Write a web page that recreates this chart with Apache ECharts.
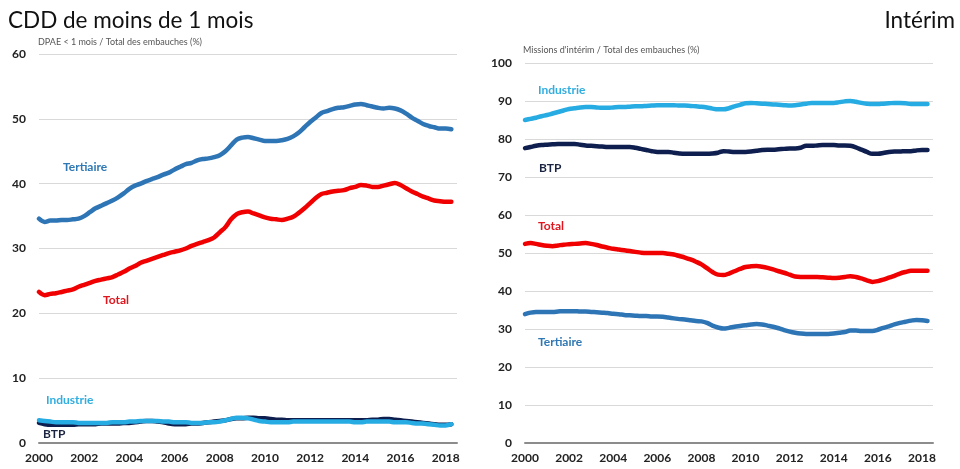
<!DOCTYPE html>
<html>
<head>
<meta charset="utf-8">
<script src="https://cdn.jsdelivr.net/npm/echarts@6/dist/echarts.min.js"></script>
<style>
  html, body { margin: 0; padding: 0; background: #ffffff; }
  #chart { width: 960px; height: 469px; }
</style>
</head>
<body>
<div id="chart"></div>
<script>
// Quarterly periods (decimal years), 2000 T1 to 2018 T2
const periods = [
  2000, 2000.25, 2000.5, 2000.75, 2001, 2001.25, 2001.5, 2001.75,
  2002, 2002.25, 2002.5, 2002.75, 2003, 2003.25, 2003.5, 2003.75,
  2004, 2004.25, 2004.5, 2004.75, 2005, 2005.25, 2005.5, 2005.75,
  2006, 2006.25, 2006.5, 2006.75, 2007, 2007.25, 2007.5, 2007.75,
  2008, 2008.25, 2008.5, 2008.75, 2009, 2009.25, 2009.5, 2009.75,
  2010, 2010.25, 2010.5, 2010.75, 2011, 2011.25, 2011.5, 2011.75,
  2012, 2012.25, 2012.5, 2012.75, 2013, 2013.25, 2013.5, 2013.75,
  2014, 2014.25, 2014.5, 2014.75, 2015, 2015.25, 2015.5, 2015.75,
  2016, 2016.25, 2016.5, 2016.75, 2017, 2017.25, 2017.5, 2017.75,
  2018, 2018.25
];
const yearTicks = [2000, 2002, 2004, 2006, 2008, 2010, 2012, 2014, 2016, 2018];

// CDD de moins de 1 mois : DPAE < 1 mois / total des embauches (%)
const cddTertiaire = [
  34.6, 34.1, 34.3, 34.3, 34.4, 34.4, 34.5, 34.6,
  35.0, 35.6, 36.2, 36.6, 37.0, 37.4, 37.9, 38.5,
  39.2, 39.7, 40.0, 40.4, 40.7, 41.0, 41.4, 41.7,
  42.2, 42.6, 43.0, 43.2, 43.6, 43.8, 43.9, 44.1,
  44.4, 45.0, 45.9, 46.8, 47.1, 47.2, 47.0, 46.8,
  46.6, 46.6, 46.6, 46.7, 46.9, 47.3, 47.9, 48.7,
  49.5, 50.2, 50.9, 51.2, 51.5, 51.7, 51.8, 52.0,
  52.2, 52.3, 52.1, 51.9, 51.7, 51.6, 51.7, 51.6,
  51.3, 50.8, 50.2, 49.7, 49.2, 48.9, 48.7, 48.5,
  48.5, 48.4
];
const cddTotal = [
  23.3, 22.8, 23.0, 23.1, 23.3, 23.5, 23.7, 24.1,
  24.4, 24.7, 25.0, 25.2, 25.4, 25.6, 26.0, 26.4,
  26.9, 27.3, 27.8, 28.1, 28.4, 28.7, 29.0, 29.3,
  29.5, 29.7, 30.0, 30.4, 30.7, 31.0, 31.3, 31.7,
  32.5, 33.3, 34.5, 35.3, 35.6, 35.7, 35.4, 35.1,
  34.8, 34.6, 34.5, 34.4, 34.6, 34.9, 35.5, 36.2,
  37.0, 37.8, 38.4, 38.6, 38.8, 38.9, 39.0, 39.3,
  39.5, 39.8, 39.7, 39.5, 39.5, 39.7, 39.9, 40.1,
  39.8, 39.3, 38.8, 38.4, 38.0, 37.7, 37.4, 37.3,
  37.2, 37.2
];
const cddIndustrie = [
  3.5, 3.4, 3.3, 3.2, 3.2, 3.2, 3.2, 3.1,
  3.1, 3.1, 3.1, 3.1, 3.1, 3.2, 3.2, 3.2,
  3.3, 3.3, 3.4, 3.4, 3.4, 3.4, 3.3, 3.3,
  3.2, 3.2, 3.2, 3.1, 3.1, 3.1, 3.2, 3.2,
  3.3, 3.5, 3.7, 3.9, 3.9, 3.8, 3.6, 3.4,
  3.3, 3.2, 3.2, 3.2, 3.2, 3.3, 3.3, 3.3,
  3.3, 3.3, 3.3, 3.3, 3.3, 3.3, 3.3, 3.3,
  3.2, 3.2, 3.3, 3.3, 3.3, 3.3, 3.3, 3.2,
  3.2, 3.2, 3.1, 3.0, 3.0, 2.9, 2.8, 2.7,
  2.7, 2.9
];
const cddBtp = [
  3.1, 2.9, 2.8, 2.8, 2.8, 2.8, 2.8, 2.9,
  2.9, 2.9, 2.9, 3.0, 3.0, 3.0, 3.0, 3.1,
  3.1, 3.2, 3.3, 3.4, 3.4, 3.3, 3.2, 3.0,
  2.9, 2.9, 2.9, 3.0, 3.0, 3.1, 3.2, 3.3,
  3.4, 3.5, 3.7, 3.8, 3.8, 3.9, 3.9, 3.8,
  3.8, 3.7, 3.6, 3.6, 3.5, 3.5, 3.5, 3.5,
  3.5, 3.5, 3.5, 3.5, 3.5, 3.5, 3.5, 3.5,
  3.5, 3.5, 3.5, 3.6, 3.6, 3.7, 3.7, 3.6,
  3.5, 3.4, 3.3, 3.2, 3.1, 3.0, 2.9, 2.8,
  2.8, 2.9
];

// Intérim : missions d'intérim / total des embauches (%)
const intIndustrie = [
  85.0, 85.3, 85.6, 86.0, 86.3, 86.7, 87.1, 87.5,
  87.9, 88.1, 88.3, 88.4, 88.4, 88.3, 88.2, 88.2,
  88.3, 88.4, 88.4, 88.5, 88.6, 88.6, 88.7, 88.8,
  88.9, 88.9, 88.9, 88.9, 88.8, 88.8, 88.7, 88.6,
  88.5, 88.3, 88.0, 87.8, 87.8, 88.1, 88.6, 89.0,
  89.4, 89.5, 89.4, 89.3, 89.2, 89.1, 89.0, 88.9,
  88.8, 88.9, 89.1, 89.3, 89.5, 89.5, 89.5, 89.5,
  89.5, 89.7, 89.9, 90.0, 89.8, 89.5, 89.3, 89.2,
  89.2, 89.3, 89.4, 89.5, 89.5, 89.4, 89.2, 89.2,
  89.2, 89.2
];
const intBtp = [
  77.6, 77.9, 78.2, 78.4, 78.5, 78.6, 78.7, 78.7,
  78.7, 78.7, 78.5, 78.3, 78.2, 78.1, 78.0, 77.9,
  77.9, 77.9, 77.9, 77.9, 77.7, 77.4, 77.1, 76.8,
  76.6, 76.6, 76.6, 76.4, 76.2, 76.1, 76.1, 76.1,
  76.1, 76.1, 76.2, 76.4, 76.8, 76.7, 76.6, 76.6,
  76.6, 76.7, 76.9, 77.1, 77.2, 77.2, 77.3, 77.4,
  77.5, 77.5, 77.7, 78.2, 78.2, 78.3, 78.4, 78.4,
  78.4, 78.3, 78.3, 78.2, 77.8, 77.2, 76.6, 76.1,
  76.1, 76.3, 76.6, 76.7, 76.7, 76.8, 76.8, 77.0,
  77.1, 77.1
];
const intTotal = [
  52.4, 52.6, 52.4, 52.1, 51.9, 51.8, 52.0, 52.2,
  52.3, 52.4, 52.5, 52.6, 52.4, 52.1, 51.7, 51.4,
  51.1, 50.9, 50.7, 50.5, 50.3, 50.1, 50.0, 50.0,
  50.0, 50.0, 49.8, 49.6, 49.2, 48.8, 48.3, 47.7,
  47.0, 46.0, 45.0, 44.3, 44.2, 44.6, 45.2, 45.8,
  46.3, 46.5, 46.6, 46.4, 46.1, 45.7, 45.2, 44.8,
  44.3, 43.8, 43.7, 43.7, 43.7, 43.7, 43.6, 43.5,
  43.4, 43.5, 43.7, 43.9, 43.7, 43.3, 42.8, 42.4,
  42.6, 43.0, 43.5, 44.0, 44.6, 45.0, 45.3, 45.3,
  45.3, 45.3
];
const intTertiaire = [
  33.9, 34.3, 34.5, 34.5, 34.5, 34.5, 34.6, 34.7,
  34.7, 34.7, 34.6, 34.6, 34.5, 34.4, 34.3, 34.2,
  34.0, 33.9, 33.7, 33.6, 33.5, 33.4, 33.4, 33.3,
  33.3, 33.2, 33.0, 32.8, 32.6, 32.5, 32.3, 32.1,
  32.0, 31.6, 30.9, 30.4, 30.1, 30.3, 30.6, 30.8,
  31.0, 31.2, 31.3, 31.2, 30.9, 30.6, 30.2, 29.7,
  29.3, 29.0, 28.8, 28.7, 28.7, 28.7, 28.7, 28.7,
  28.8, 29.0, 29.2, 29.6, 29.6, 29.5, 29.5, 29.5,
  29.8, 30.3, 30.7, 31.2, 31.6, 31.9, 32.2, 32.4,
  32.3, 32.1
];

const FONT = 'Lato, "Open Sans", sans-serif';
const COLORS = {
  tertiaire: '#2e75b6',
  total: '#f00000',
  industrie: '#26abe2',
  btp: '#0e1f4f'
};

function pairs(values) {
  return values.map((v, i) => [periods[i], v]);
}

function xAxisFor(gridIndex) {
  return {
    type: 'value',
    gridIndex: gridIndex,
    min: yearTicks[0],
    max: 2018.5,
    interval: 2,
    axisLine: { show: true, onZero: true, lineStyle: { color: '#8c8c8c', width: 2 } },
    axisTick: { show: false },
    splitLine: { show: false },
    axisLabel: {
      margin: 9,
      fontFamily: FONT,
      fontWeight: 'bold',
      fontSize: 12,
      color: '#222',
      showMaxLabel: false,
      formatter: v => (yearTicks.indexOf(v) >= 0 ? String(v) : '')
    }
  };
}

function yAxisFor(gridIndex, max) {
  return {
    type: 'value',
    gridIndex: gridIndex,
    min: 0,
    max: max,
    interval: 10,
    axisLine: { show: false },
    axisTick: { show: false },
    splitLine: { show: true, lineStyle: { color: '#d9d9d9', width: 1 } },
    axisLabel: {
      margin: 13,
      fontFamily: FONT,
      fontWeight: 'bold',
      fontSize: 12,
      color: '#222'
    }
  };
}

function line(name, values, color, xi, z) {
  return {
    name: name,
    type: 'line',
    xAxisIndex: xi,
    yAxisIndex: xi,
    data: pairs(values),
    showSymbol: false,
    smooth: 0.35,
    z: z,
    lineStyle: { color: color, width: 4.5, cap: 'round', join: 'round' },
    itemStyle: { color: color },
    emphasis: { disabled: true }
  };
}

function label(text, x, y, color) {
  return {
    type: 'text',
    x: x,
    y: y,
    style: {
      text: text,
      fill: color,
      font: 'bold 12px ' + FONT,
      textVerticalAlign: 'middle'
    }
  };
}

const chart = echarts.init(document.getElementById('chart'), null, { renderer: 'canvas' });

chart.setOption({
  backgroundColor: '#ffffff',
  animation: false,
  title: [
    {
      text: 'CDD de moins de 1 mois',
      left: 8,
      top: 9,
      padding: 0,
      textStyle: { fontFamily: FONT, fontWeight: 'normal', fontSize: 22.5, color: '#111' }
    },
    {
      text: 'Intérim',
      right: 5,
      top: 9,
      padding: 0,
      textStyle: { fontFamily: FONT, fontWeight: 'normal', fontSize: 22.5, color: '#111' }
    },
    {
      text: 'DPAE < 1 mois / Total des embauches (%)',
      left: 38,
      top: 38,
      padding: 0,
      textStyle: { fontFamily: FONT, fontWeight: 'normal', fontSize: 9, color: '#555' }
    },
    {
      text: "Missions d'intérim / Total des embauches (%)",
      left: 523,
      top: 46,
      padding: 0,
      textStyle: { fontFamily: FONT, fontWeight: 'normal', fontSize: 9, color: '#555' }
    }
  ],
  grid: [
    { left: 39, right: 503, top: 54, bottom: 26 },
    { left: 525, right: 27, top: 63, bottom: 26 }
  ],
  xAxis: [xAxisFor(0), xAxisFor(1)],
  yAxis: [yAxisFor(0, 60), yAxisFor(1, 100)],
  series: [
    line('Tertiaire', cddTertiaire, COLORS.tertiaire, 0, 3),
    line('Total', cddTotal, COLORS.total, 0, 3),
    line('BTP', cddBtp, COLORS.btp, 0, 3),
    line('Industrie', cddIndustrie, COLORS.industrie, 0, 4),
    line('Industrie', intIndustrie, COLORS.industrie, 1, 3),
    line('BTP', intBtp, COLORS.btp, 1, 3),
    line('Total', intTotal, COLORS.total, 1, 3),
    line('Tertiaire', intTertiaire, COLORS.tertiaire, 1, 3)
  ],
  graphic: [
    label('Tertiaire', 63, 167, '#2f78b4'),
    label('Total', 103, 300, '#e0161e'),
    label('Industrie', 46, 400, '#31aee0'),
    label('BTP', 43, 434, '#1a2440'),
    label('Industrie', 538, 90, '#31aee0'),
    label('BTP', 539, 168, '#1a2440'),
    label('Total', 538, 226, '#e0161e'),
    label('Tertiaire', 538, 342, '#2f78b4')
  ]
});
</script>
</body>
</html>
